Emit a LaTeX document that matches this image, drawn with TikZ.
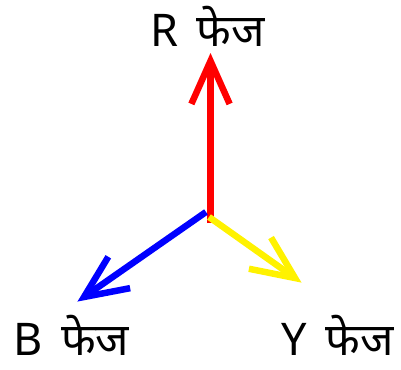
\documentclass[tikz,border=0pt]{standalone}
\usepackage{fontspec}
\setmainfont[Script=Devanagari]{Noto Sans}
\usetikzlibrary{calc}
\tikzset{
  phase/.style={line width=6.5pt, line cap=butt, line join=miter},
  lbl/.style={font=\fontsize{45}{50}\selectfont, inner sep=0pt, anchor=base west},
}
\newcommand{\chev}[3]{% tip, base, colour
  \draw[phase, #3] ($(#1)!47pt!24:(#2)$) -- (#1) -- ($(#1)!47pt!-24:(#2)$);}
\newcommand{\gapx}{\hspace{7pt}}
\begin{document}
\begin{tikzpicture}[x=1pt,y=-1pt]
\useasboundingbox (0,0) rectangle (401,369);
\coordinate (O) at (210,213);
\coordinate (Rb) at (210.5,223);
\coordinate (Rt) at (210.5,61);
\coordinate (Bs) at (206,212);
\coordinate (Bt) at (84,297);
\coordinate (Ys) at (209,217);
\coordinate (Yt) at (295,278);
% red
\draw[phase, red] (Rb) -- (Rt);
\chev{Rt}{Rb}{red}
% blue
\draw[phase, blue] (Bs) -- (Bt);
\chev{Bt}{Bs}{blue}
% yellow
\draw[phase, yellow] (Ys) -- (Yt);
\chev{Yt}{Ys}{yellow}
% labels
\node[lbl] (R) at (150,46) {R \gapx फेज};
\node[lbl] (B) at (13,355) {B \gapx फेज};
\node[lbl] (Y) at (281,355) {Y \gapx फेज};
\end{tikzpicture}
\end{document}
